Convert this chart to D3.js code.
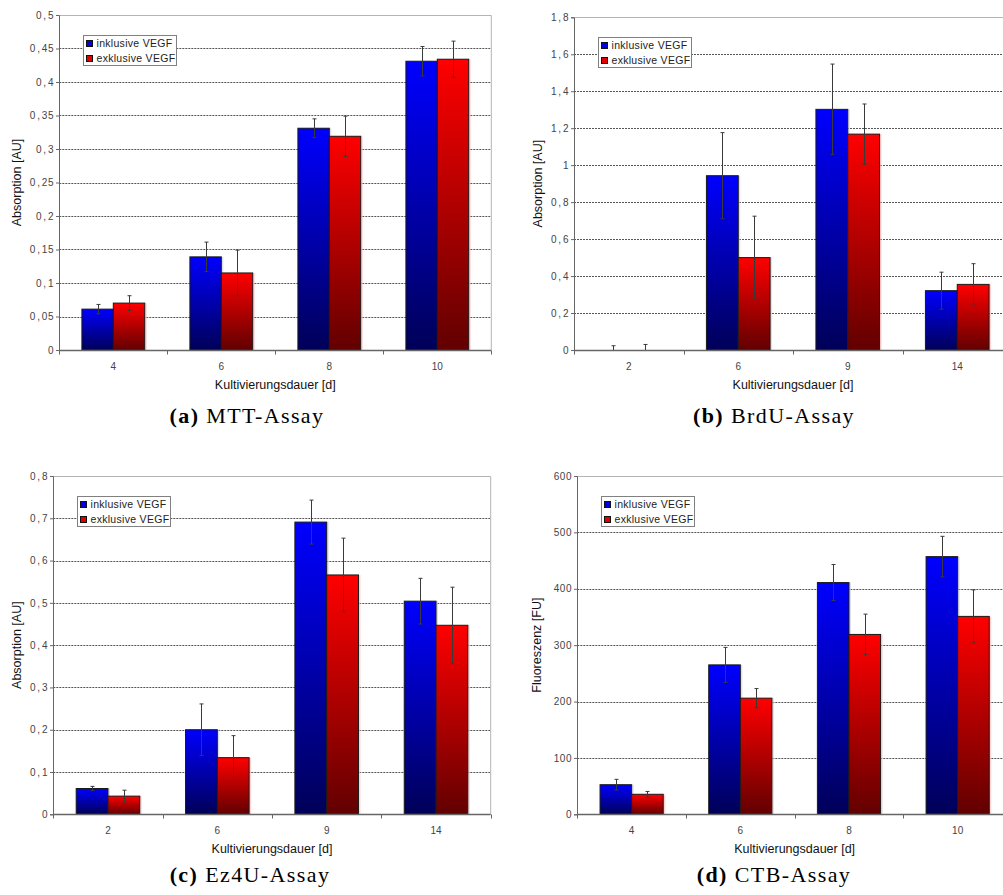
<!DOCTYPE html>
<html>
<head>
<meta charset="utf-8">
<script src="https://cdn.jsdelivr.net/npm/d3@7"></script>
<style>
body { margin: 0; background: #fff; }
svg { display: block; font-family: "Liberation Sans", Arial, sans-serif; }
</style>
</head>
<body>
<div id="chart"></div>
<script>
'use strict';

var seriesNames = ['inklusive VEGF', 'exklusive VEGF'];

// (a) MTT-Assay
var mttDays = ['4', '6', '8', '10'];
var mttInkl = [0.061, 0.139, 0.331, 0.431];
var mttInklErr = [0.007, 0.022, 0.014, 0.022];
var mttExkl = [0.070, 0.115, 0.319, 0.434];
var mttExklErr = [0.011, 0.034, 0.030, 0.027];

// (b) BrdU-Assay
var brduDays = ['2', '6', '9', '14'];
var brduInkl = [0, 0.943, 1.302, 0.321];
var brduInklErr = [0.023, 0.233, 0.245, 0.100];
var brduExkl = [0, 0.500, 1.168, 0.355];
var brduExklErr = [0.030, 0.224, 0.163, 0.112];

// (c) Ez4U-Assay
var ezDays = ['2', '6', '9', '14'];
var ezInkl = [0.061, 0.200, 0.691, 0.504];
var ezInklErr = [0.005, 0.061, 0.052, 0.054];
var ezExkl = [0.043, 0.134, 0.566, 0.447];
var ezExklErr = [0.014, 0.052, 0.087, 0.090];

// (d) CTB-Assay
var ctbDays = ['4', '6', '8', '10'];
var ctbInkl = [52.5, 265, 411, 457];
var ctbInklErr = [9.5, 31, 32, 36];
var ctbExkl = [35.5, 206, 319, 351];
var ctbExklErr = [5, 17, 36, 47];

var panels = [
  { tag: '(a)', title: ' MTT-Assay', days: mttDays, inkl: mttInkl, inklErr: mttInklErr, exkl: mttExkl, exklErr: mttExklErr,
    yMax: 0.5, yStep: 0.05, yLabel: 'Absorption [AU]',
    left: 59.3, top: 15, width: 432, bottom: 350, yLabelX: 17, capX: 247, capY: 423 },
  { tag: '(b)', title: ' BrdU-Assay', days: brduDays, inkl: brduInkl, inklErr: brduInklErr, exkl: brduExkl, exklErr: brduExklErr,
    yMax: 1.8, yStep: 0.2, yLabel: 'Absorption [AU]',
    left: 574, top: 17.3, width: 438, bottom: 350, yLabelX: 538, capX: 774, capY: 423 },
  { tag: '(c)', title: ' Ez4U-Assay', days: ezDays, inkl: ezInkl, inklErr: ezInklErr, exkl: ezExkl, exklErr: ezExklErr,
    yMax: 0.8, yStep: 0.1, yLabel: 'Absorption [AU]',
    left: 53.3, top: 476, width: 437.4, bottom: 814.3, yLabelX: 17, capX: 250, capY: 882 },
  { tag: '(d)', title: ' CTB-Assay', days: ctbDays, inkl: ctbInkl, inklErr: ctbInklErr, exkl: ctbExkl, exklErr: ctbExklErr,
    yMax: 600, yStep: 100, yLabel: 'Fluoreszenz [FU]',
    left: 577.3, top: 476, width: 434.7, bottom: 814.3, yLabelX: 537, capX: 774, capY: 882 }
];

var fills = ['url(#gradBlue)', 'url(#gradRed)'];
var swatch = ['#0000e0', '#e00000'];

function appendSvg() {
  return d3.select('#chart').append('svg')
    .attr('width', 1003)
    .attr('height', 895);
}

function appendGradients(svg) {
  var defs = svg.append('defs');
  var specs = [['gradBlue', '#0000ff', '#000058'], ['gradRed', '#ff0000', '#620000']];
  specs.forEach(function(s) {
    var g = defs.append('linearGradient').attr('id', s[0])
      .attr('x1', 0).attr('y1', 0).attr('x2', 0).attr('y2', 1);
    g.append('stop').attr('offset', '0%').attr('stop-color', s[1]);
    g.append('stop').attr('offset', '100%').attr('stop-color', s[2]);
  });
}

function fmtTick(d) {
  var s = String(+d.toFixed(3));
  return s.replace('.', '\u200A,\u200A');
}

function drawPanel(svg, p) {
  var g = svg.append('g');
  var right = p.left + p.width;

  var x0 = d3.scaleBand().domain(p.days).range([p.left, right]);
  var x1 = d3.scaleBand().domain([0, 1]).range([0, x0.bandwidth()]).paddingOuter(0.72);
  var y = d3.scaleLinear().domain([0, p.yMax]).range([p.bottom, p.top]);
  var ticks = d3.range(0, p.yMax + p.yStep / 2, p.yStep);

  // grid
  g.append('g').selectAll('line')
    .data(ticks.slice(1, -1))
    .enter().append('line')
    .attr('x1', p.left).attr('x2', right)
    .attr('y1', function(d) { return Math.round(y(d)) + 0.5; })
    .attr('y2', function(d) { return Math.round(y(d)) + 0.5; })
    .attr('stroke', '#555')
    .attr('stroke-dasharray', '2,1');

  // top and right frame
  g.append('path')
    .attr('d', 'M' + p.left + ',' + (Math.round(p.top) + 0.5) + 'H' + right + 'V' + p.bottom)
    .attr('fill', 'none')
    .attr('stroke', '#b4b4b4');

  // bars
  var series = [
    { vals: p.inkl, errs: p.inklErr },
    { vals: p.exkl, errs: p.exklErr }
  ];
  var bars = [];
  series.forEach(function(s, si) {
    p.days.forEach(function(day, i) {
      bars.push({ day: day, si: si, value: s.vals[i], err: s.errs[i] });
    });
  });

  g.append('g').selectAll('rect')
    .data(bars.filter(function(d) { return d.value > 0; }))
    .enter().append('rect')
    .attr('x', function(d) { return x0(d.day) + x1(d.si) + 2; })
    .attr('y', function(d) { return y(d.value); })
    .attr('width', x1.bandwidth())
    .attr('height', function(d) { return p.bottom - y(d.value); })
    .attr('fill', function(d) { return d.si ? '#ffb8b8' : '#c8c8d8'; })
    .attr('opacity', 0.6);

  g.append('g').selectAll('rect')
    .data(bars.filter(function(d) { return d.value > 0; }))
    .enter().append('rect')
    .attr('x', function(d) { return x0(d.day) + x1(d.si); })
    .attr('y', function(d) { return y(d.value); })
    .attr('width', x1.bandwidth())
    .attr('height', function(d) { return p.bottom - y(d.value); })
    .attr('fill', function(d) { return fills[d.si]; })
    .attr('stroke', '#1a1a1a')
    .attr('stroke-width', 1);

  // error bars
  var eb = g.append('g').attr('stroke', '#3a3a3a').attr('stroke-width', 1);
  bars.forEach(function(d) {
    var cx = Math.round(x0(d.day) + x1(d.si) + x1.bandwidth() / 2) + 0.5;
    var hi = y(d.value + d.err);
    var lo = y(Math.max(0, d.value - d.err));
    eb.append('line').attr('x1', cx).attr('x2', cx).attr('y1', hi).attr('y2', lo);
    eb.append('line').attr('x1', cx - 2).attr('x2', cx + 2).attr('y1', hi).attr('y2', hi);
    if (d.value - d.err > 0) {
      eb.append('line').attr('x1', cx - 2).attr('x2', cx + 2).attr('y1', lo).attr('y2', lo);
    }
  });

  // y axis
  var yAxis = g.append('g')
    .attr('transform', 'translate(' + Math.round(p.left) + ',0)')
    .call(d3.axisLeft(y).tickValues(ticks).tickSize(3).tickPadding(2).tickFormat(fmtTick));
  yAxis.select('.domain').attr('stroke', '#666');
  yAxis.selectAll('.tick line').attr('stroke', '#666');
  yAxis.selectAll('.tick text')
    .attr('fill', '#444')
    .attr('font-size', 10)
    .attr('font-family', '"Liberation Sans", Arial, sans-serif')
    .attr('letter-spacing', 0.5);

  // x axis
  var xAxis = g.append('g')
    .attr('transform', 'translate(0,' + (Math.round(p.bottom) + 0.5) + ')');
  xAxis.append('line')
    .attr('x1', p.left).attr('x2', right)
    .attr('stroke', '#666').attr('stroke-width', 1.3);
  xAxis.selectAll('line.bound')
    .data(d3.range(p.days.length + 1))
    .enter().append('line')
    .attr('class', 'bound')
    .attr('x1', function(i) { return Math.round(p.left + i * x0.step()) + 0.5; })
    .attr('x2', function(i) { return Math.round(p.left + i * x0.step()) + 0.5; })
    .attr('y1', 0).attr('y2', 4)
    .attr('stroke', '#666');
  xAxis.selectAll('text')
    .data(p.days)
    .enter().append('text')
    .attr('x', function(d) { return x0(d) + x0.bandwidth() / 2; })
    .attr('y', 19)
    .attr('text-anchor', 'middle')
    .attr('font-size', 10)
    .attr('fill', '#444')
    .text(function(d) { return d; });

  // axis titles
  g.append('text')
    .attr('x', p.left + p.width / 2)
    .attr('y', p.bottom + 39)
    .attr('text-anchor', 'middle')
    .attr('font-size', 12.5)
    .attr('fill', '#111')
    .text('Kultivierungsdauer [d]');

  g.append('text')
    .attr('transform', 'translate(' + p.yLabelX + ',' + ((p.top + p.bottom) / 2) + ') rotate(-90)')
    .attr('dy', '0.35em')
    .attr('text-anchor', 'middle')
    .attr('font-size', 12.5)
    .attr('fill', '#111')
    .text(p.yLabel);

  // legend
  var lx = Math.round(p.left + 24) + 0.5;
  var ly = Math.round(p.top + 20) + 0.5;
  var legend = g.append('g').attr('transform', 'translate(' + lx + ',' + ly + ')');
  legend.append('rect')
    .attr('width', 93).attr('height', 30)
    .attr('fill', '#fff').attr('stroke', '#808080');
  var items = legend.selectAll('g.item')
    .data(seriesNames)
    .enter().append('g')
    .attr('class', 'item')
    .attr('transform', function(d, i) { return 'translate(0,' + (8 + i * 15) + ')'; });
  items.append('rect')
    .attr('x', 3).attr('y', -3)
    .attr('width', 6).attr('height', 6)
    .attr('fill', function(d, i) { return swatch[i]; })
    .attr('stroke', '#111');
  items.append('text')
    .attr('x', 13).attr('y', 0)
    .attr('dy', '0.35em')
    .attr('font-size', 10.5)
    .attr('letter-spacing', 0.3)
    .attr('fill', '#222')
    .text(function(d) { return d; });

  // caption
  var cap = svg.append('text')
    .attr('x', p.capX).attr('y', p.capY)
    .attr('text-anchor', 'middle')
    .attr('font-family', '"Liberation Serif", "Times New Roman", serif')
    .attr('font-size', 22)
    .attr('letter-spacing', 1.4)
    .attr('fill', '#000');
  cap.append('tspan').attr('font-weight', 'bold').text(p.tag);
  cap.append('tspan').text(p.title);
}

var svg = appendSvg();
svg.append('rect').attr('width', 1003).attr('height', 895).attr('fill', '#fff');
appendGradients(svg);
panels.forEach(function(p) { drawPanel(svg, p); });
</script>
</body>
</html>
